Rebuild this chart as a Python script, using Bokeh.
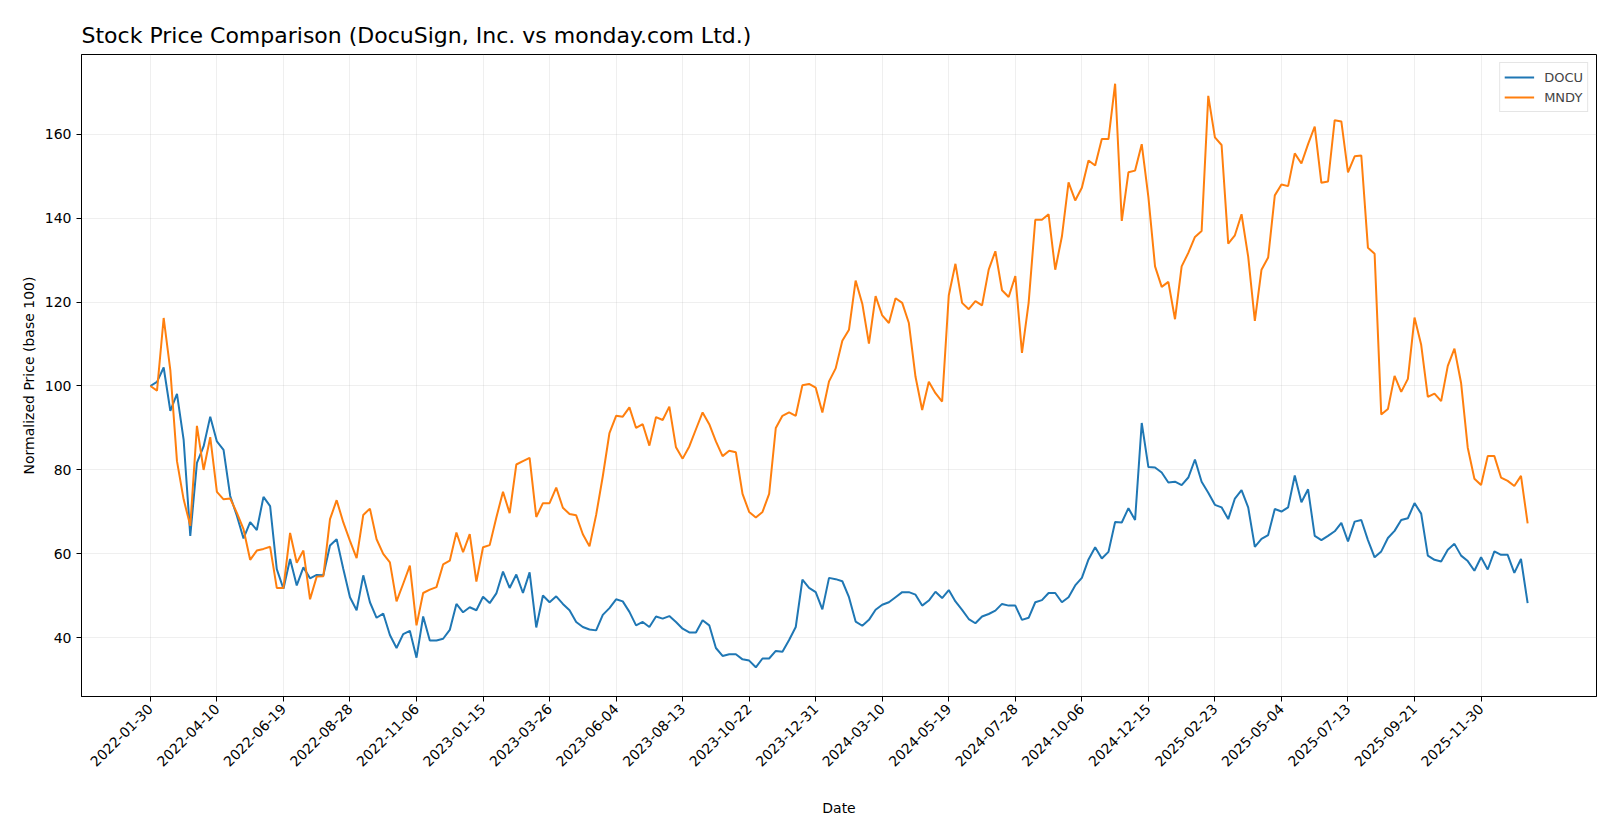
import numpy as np
import pandas as pd
from bokeh.plotting import figure
from bokeh.models import (FixedTicker, SingleIntervalTicker, DatetimeTickFormatter,
                          Range1d, Legend, LegendItem)
from bokeh.embed import file_html
from bokeh.resources import INLINE

# weekly closes normalised to 100 at the first week
start_date = "2022-01-30"
docu = [
    100.0, 101.0, 104.4, 94.1, 98.1, 87.2, 64.3, 81.7, 85.6, 92.7,
    86.8, 84.8, 73.8, 69.1, 63.7, 67.6, 65.7, 73.6, 71.4, 56.4,
    51.7, 58.8, 52.5, 56.8, 54.2, 55.0, 54.9, 62.0, 63.5, 56.4,
    49.7, 46.6, 54.9, 48.5, 44.8, 45.8, 40.7, 37.6, 40.9, 41.7,
    35.3, 45.1, 39.4, 39.4, 39.8, 41.9, 48.1, 46.1, 47.3, 46.6,
    49.8, 48.3, 50.6, 55.8, 51.9, 55.1, 50.7, 55.6, 42.5, 50.1,
    48.5, 49.9, 48.1, 46.6, 43.8, 42.6, 42.0, 41.8, 45.5, 47.1,
    49.2, 48.7, 46.2, 43.0, 43.8, 42.6, 45.1, 44.6, 45.2, 43.8,
    42.2, 41.3, 41.3, 44.2, 43.0, 37.6, 35.7, 36.1, 36.1, 34.9,
    34.6, 33.0, 35.1, 35.1, 36.9, 36.7, 39.5, 42.6, 53.9, 51.9,
    50.9, 46.8, 54.3, 54.0, 53.5, 49.7, 43.9, 42.9, 44.3, 46.7,
    47.9, 48.5, 49.7, 50.9, 50.9, 50.3, 47.7, 48.9, 51.0, 49.5,
    51.4, 48.7, 46.7, 44.5, 43.5, 45.1, 45.7, 46.5, 48.1, 47.7,
    47.7, 44.3, 44.8, 48.5, 49.0, 50.7, 50.7, 48.5, 49.7, 52.5,
    54.3, 58.7, 61.6, 58.9, 60.5, 67.6, 67.5, 70.9, 68.1, 91.2,
    80.7, 80.6, 79.4, 77.0, 77.2, 76.4, 78.2, 82.5, 77.2, 74.6,
    71.7, 71.1, 68.3, 73.2, 75.2, 71.1, 61.7, 63.6, 64.5, 70.7,
    70.1, 71.1, 78.7, 72.3, 75.4, 64.3, 63.3, 64.3, 65.4, 67.4,
    63.0, 67.7, 68.1, 63.3, 59.2, 60.6, 63.8, 65.5, 68.1, 68.5,
    72.1, 69.6, 59.6, 58.6, 58.2, 61.0, 62.4, 59.6, 58.3, 56.0,
    59.2, 56.3, 60.6, 59.8, 59.8, 55.5, 58.8, 48.3,
]
mndy = [
    100.0, 98.9, 116.2, 103.8, 82.1, 73.0, 66.7, 90.5, 80.0, 87.8,
    74.8, 73.0, 73.2, 69.8, 65.9, 58.6, 60.8, 61.2, 61.7, 51.9,
    51.9, 65.0, 57.9, 60.8, 49.2, 54.6, 54.7, 68.3, 72.8, 67.5,
    63.1, 59.0, 69.3, 70.8, 63.5, 60.0, 58.0, 48.7, 52.9, 57.2,
    43.0, 50.7, 51.5, 52.1, 57.5, 58.4, 65.1, 60.4, 64.7, 53.4,
    61.6, 62.1, 68.7, 74.8, 69.7, 81.3, 82.1, 82.9, 68.8, 72.1,
    72.1, 75.8, 71.0, 69.5, 69.2, 64.7, 61.8, 69.3, 78.5, 88.8,
    92.9, 92.7, 94.9, 90.0, 90.9, 85.8, 92.6, 91.9, 95.1, 85.4,
    82.7, 85.6, 89.7, 93.7, 90.9, 86.8, 83.3, 84.6, 84.2, 74.3,
    70.0, 68.7, 70.0, 74.3, 90.0, 92.9, 93.7, 92.9, 100.2, 100.5,
    99.6, 93.7, 101.1, 104.2, 110.8, 113.4, 125.1, 119.6, 110.1, 121.4,
    116.8, 115.0, 120.9, 119.8, 115.0, 102.2, 94.3, 101.0, 98.3, 96.3,
    121.6, 129.1, 119.8, 118.3, 120.2, 119.2, 127.7, 132.1, 122.8, 121.2,
    126.2, 107.9, 119.8, 139.6, 139.6, 140.9, 127.7, 135.6, 148.5, 144.2,
    147.2, 153.7, 152.5, 158.8, 158.8, 172.0, 139.3, 150.9, 151.3, 157.6,
    145.0, 128.5, 123.6, 124.8, 115.9, 128.5, 131.7, 135.5, 136.9, 169.1,
    159.2, 157.4, 133.9, 135.9, 140.9, 130.8, 115.5, 127.7, 130.6, 145.4,
    148.0, 147.6, 155.4, 153.0, 157.6, 161.8, 148.4, 148.7, 163.3, 163.0,
    150.9, 154.7, 154.9, 132.9, 131.5, 93.2, 94.5, 102.4, 98.6, 101.7,
    116.3, 109.8, 97.4, 98.2, 96.4, 104.8, 108.9, 100.7, 85.3, 77.9,
    76.4, 83.3, 83.3, 78.2, 77.4, 76.2, 78.6, 67.3,
]
dates = pd.date_range(start_date, periods=len(docu), freq="7D")
tick_dates = pd.date_range(start_date, "2025-11-30", freq="70D")

FONT = "DejaVu Sans"

# matplotlib-like 5% margins
span = dates[-1] - dates[0]
x0 = dates[0] - span * 0.05
x1 = dates[-1] + span * 0.05
lo = min(min(docu), min(mndy))
hi = max(max(docu), max(mndy))
pad = (hi - lo) * 0.05

p = figure(width=1612, height=819, x_axis_type="datetime",
           x_range=Range1d(x0, x1), y_range=Range1d(lo - pad, hi + pad),
           output_backend="svg", toolbar_location=None,
           title="Stock Price Comparison (DocuSign, Inc. vs monday.com Ltd.)",
           min_border_left=81, min_border_right=16, min_border_top=54,
           min_border_bottom=121)

p.title.text_font = FONT
p.title.text_font_size = "22px"
p.title.text_font_style = "normal"
p.title.text_color = "black"
p.title.align = "left"
p.title.standoff = 13

r1 = p.line(dates, docu, line_color="#1f77b4", line_width=2)
r2 = p.line(dates, mndy, line_color="#ff7f0e", line_width=2)

legend = Legend(items=[LegendItem(label="DOCU", renderers=[r1]),
                       LegendItem(label="MNDY", renderers=[r2])],
                location="top_right")
legend.label_text_font = FONT
legend.label_text_font_size = "13px"
legend.border_line_color = "#cccccc"
legend.border_line_width = 1
legend.glyph_width = 30
legend.label_standoff = 10
legend.padding = 4
legend.spacing = 0
legend.margin = 8
p.add_layout(legend)

p.xaxis.ticker = FixedTicker(ticks=[t.value // 10**6 for t in tick_dates])
fmt = "%Y-%m-%d"
p.xaxis.formatter = DatetimeTickFormatter(days=fmt, months=fmt, years=fmt, hours=fmt)
p.xaxis.major_label_orientation = np.pi / 4
p.yaxis.ticker = SingleIntervalTicker(interval=20)

for ax in (p.xaxis, p.yaxis):
    ax.major_label_text_font = FONT
    ax.major_label_text_font_size = "14px"
    ax.major_label_text_color = "black"
    ax.axis_label_text_font = FONT
    ax.axis_label_text_font_size = "14px"
    ax.axis_label_text_font_style = "normal"
    ax.axis_label_text_color = "black"
    ax.axis_line_color = "black"
    ax.major_tick_line_color = "black"
    ax.major_tick_out = 5
    ax.major_tick_in = 0
    ax.minor_tick_line_color = None

p.xaxis.axis_label = "Date"
p.xaxis.axis_label_standoff = 26
p.yaxis.axis_label = "Normalized Price (base 100)"

p.grid.grid_line_color = "#b0b0b0"
p.grid.grid_line_alpha = 0.2
p.outline_line_color = "black"
p.outline_line_alpha = 1
p.outline_line_width = 1

open("out.html", "w").write(file_html(p, INLINE))
